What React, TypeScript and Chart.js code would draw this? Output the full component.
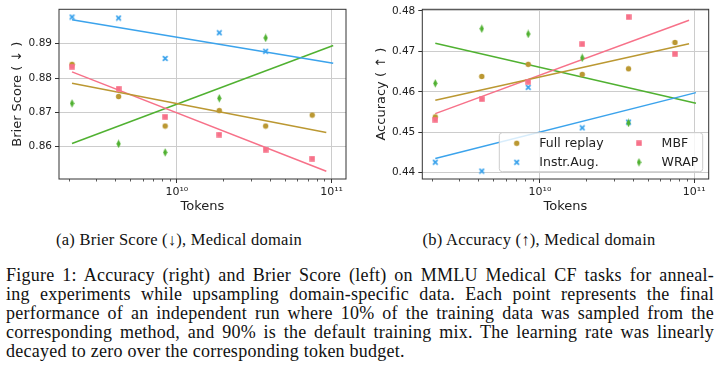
import React, { useEffect, useRef } from "react";
import { Chart, registerables } from "chart.js";

Chart.register(...registerables);

// ---------------- data ----------------
const tokens = [2.1e9, 4.2e9, 8.4e9, 1.88e10, 3.75e10, 7.5e10];
const seriesNames = ["Full replay", "Instr.Aug.", "MBF", "WRAP"];
const seriesColors = ["#bb9832", "#3ba3ec", "#f77189", "#50b131"];
const seriesMarkers = ["circle", "x", "square", "thinDiamond"];

// Brier score (left)
const brierFullReplay = [0.884, 0.8746, 0.866, 0.8705, 0.866, 0.8692];
const brierInstrAug = [0.8978, 0.8975, 0.8857, 0.8932, 0.8878];
const brierMBF = [0.8833, 0.8769, 0.8687, 0.8635, 0.8591, 0.8565];
const brierWRAP = [0.8726, 0.8608, 0.8583, 0.8741, 0.8917];

// Accuracy (right)
const accFullReplay = [0.4538, 0.4638, 0.4668, 0.4643, 0.4657, 0.4722];
const accInstrAug = [0.4426, 0.4404, 0.4611, 0.4511, 0.4525];
const accMBF = [0.4531, 0.4582, 0.4625, 0.4718, 0.4785, 0.4694];
const accWRAP = [0.4621, 0.4756, 0.4743, 0.4684, 0.4523];

// linear fits (in log-x), start and end
const trendStartX = 2.1e9;
const trendEndX = [9.25e10, 1.025e11, 9.25e10, 1.025e11];
const brierTrendStart = [0.8785, 0.897, 0.8818, 0.8609];
const brierTrendEnd = [0.8641, 0.8843, 0.8528, 0.8895];
const accTrendStart = [0.4579, 0.4435, 0.4546, 0.472];
const accTrendEnd = [0.4719, 0.4598, 0.4777, 0.4572];

// axes
const xMin = 1.73e9;
const xMax = 1.24e11;
const xMajorTicks = [1e10, 1e11];
const xTickLabels = ["10¹⁰", "10¹¹"];
const brierTicks = [0.86, 0.87, 0.88, 0.89];
const accTicks = [0.44, 0.45, 0.46, 0.47, 0.48];
const brierRange = [0.85055, 0.90005];
const accRange = [0.43845, 0.4804];

const FONT = "'DejaVu Sans', sans-serif";
const TEXT = "#222222";

function makeMarker(kind: string, color: string): HTMLCanvasElement {
  const c = document.createElement("canvas");
  let w = 7,
    h = 7;
  if (kind === "thinDiamond") {
    w = 5;
    h = 9;
  }
  if (kind === "square") {
    w = 6;
    h = 6;
  }
  c.width = w;
  c.height = h;
  const g = c.getContext("2d")!;
  g.fillStyle = color;
  g.strokeStyle = color;
  if (kind === "circle") {
    g.beginPath();
    g.arc(3.5, 3.5, 2.7, 0, Math.PI * 2);
    g.fill();
  } else if (kind === "square") {
    g.fillRect(0.25, 0.25, 5.5, 5.5);
  } else if (kind === "x") {
    g.lineWidth = 1.7;
    g.beginPath();
    g.moveTo(1.2, 1.2);
    g.lineTo(5.8, 5.8);
    g.moveTo(5.8, 1.2);
    g.lineTo(1.2, 5.8);
    g.stroke();
  } else {
    g.beginPath();
    g.moveTo(2.5, 0.3);
    g.lineTo(4.6, 4.5);
    g.lineTo(2.5, 8.7);
    g.lineTo(0.4, 4.5);
    g.closePath();
    g.fill();
  }
  return c;
}

const framePlugin = {
  id: "frameAndMinorTicks",
  afterDraw(chart: any) {
    const { ctx, chartArea: a } = chart;
    const xs = chart.scales.x;
    ctx.save();
    ctx.strokeStyle = "#333333";
    ctx.lineWidth = 1;
    ctx.strokeRect(a.left, a.top, a.right - a.left, a.bottom - a.top);
    ctx.lineWidth = 0.8;
    ctx.beginPath();
    for (let e = 9; e <= 11; e++) {
      for (let m = 2; m <= 9; m++) {
        const v = m * Math.pow(10, e);
        if (v <= xs.min || v >= xs.max) continue;
        const px = Math.round(xs.getPixelForValue(v)) + 0.5;
        ctx.moveTo(px, a.bottom);
        ctx.lineTo(px, a.bottom + 2.5);
      }
    }
    ctx.stroke();
    ctx.restore();
  },
};

function makeLegendPlugin(markers: HTMLCanvasElement[]) {
  return {
    id: "insetLegend",
    afterDraw(chart: any) {
      const { ctx, chartArea: a } = chart;
      const w = 203.4,
        h = 39;
      const x0 = a.right - 6 - w,
        y0 = a.bottom - 7.3 - h;
      const r = 3;
      ctx.save();
      ctx.beginPath();
      ctx.moveTo(x0 + r, y0);
      ctx.lineTo(x0 + w - r, y0);
      ctx.arcTo(x0 + w, y0, x0 + w, y0 + r, r);
      ctx.lineTo(x0 + w, y0 + h - r);
      ctx.arcTo(x0 + w, y0 + h, x0 + w - r, y0 + h, r);
      ctx.lineTo(x0 + r, y0 + h);
      ctx.arcTo(x0, y0 + h, x0, y0 + h - r, r);
      ctx.lineTo(x0, y0 + r);
      ctx.arcTo(x0, y0, x0 + r, y0, r);
      ctx.closePath();
      ctx.fillStyle = "rgba(255,255,255,0.8)";
      ctx.fill();
      ctx.strokeStyle = "#cccccc";
      ctx.lineWidth = 1;
      ctx.stroke();
      ctx.font = `12.5px ${FONT}`;
      ctx.fillStyle = TEXT;
      ctx.textBaseline = "middle";
      ctx.textAlign = "left";
      seriesNames.forEach((name, i) => {
        const col = Math.floor(i / 2);
        const row = i % 2;
        const mx = x0 + 17.4 + col * 122.3;
        const my = y0 + 10.6 + row * 19;
        const m = markers[i];
        ctx.drawImage(m, mx - m.width / 2, my - m.height / 2);
        ctx.fillText(name, x0 + 40 + col * 122.3, my + 0.5);
      });
      ctx.restore();
    },
  };
}

type PanelSpec = {
  values: number[][];
  trendStart: number[];
  trendEnd: number[];
  yRange: number[];
  yTicks: number[];
  yTitle: string;
  yTitlePad: number;
  yAxisWidth: number;
  padRight: number;
  padTop: number;
  legend: boolean;
};

function buildConfig(p: PanelSpec): any {
  const markers = seriesColors.map((c, i) => makeMarker(seriesMarkers[i], c));
  const scatterSets = seriesNames.map((name, i) => ({
    type: "scatter",
    label: name,
    data: p.values[i].map((y, j) => ({ x: tokens[j], y })),
    pointStyle: markers[i],
    pointRadius: 4,
    backgroundColor: seriesColors[i],
    borderColor: seriesColors[i],
    order: 4 - i,
  }));
  const lineSets = seriesNames.map((name, i) => ({
    type: "line",
    label: name + " fit",
    data: [
      { x: trendStartX, y: p.trendStart[i] },
      { x: trendEndX[i], y: p.trendEnd[i] },
    ],
    borderColor: seriesColors[i],
    backgroundColor: seriesColors[i],
    borderWidth: 1.5,
    pointRadius: 0,
    fill: false,
    tension: 0,
    order: 10 + i,
  }));
  const plugins: any[] = [framePlugin];
  if (p.legend) plugins.push(makeLegendPlugin(markers));
  return {
    type: "scatter",
    data: { datasets: [...lineSets, ...scatterSets] },
    plugins,
    options: {
      responsive: false,
      animation: false,
      devicePixelRatio: 1,
      layout: { padding: { top: p.padTop, right: p.padRight, left: 0, bottom: 0 } },
      plugins: {
        legend: { display: false },
        tooltip: { enabled: false },
        title: { display: false },
      },
      scales: {
        x: {
          type: "logarithmic",
          min: xMin,
          max: xMax,
          afterBuildTicks: (s: any) => {
            s.ticks = xMajorTicks.map((v) => ({ value: v, major: true }));
          },
          afterFit: (s: any) => {
            s.height = 41;
          },
          ticks: {
            autoSkip: false,
            maxRotation: 0,
            padding: 3,
            color: TEXT,
            font: { family: FONT, size: 11 },
            callback: (_v: any, i: number) => xTickLabels[i],
          },
          grid: {
            color: "#cccccc",
            lineWidth: 1,
            tickColor: "#333333",
            tickLength: 4,
            drawTicks: true,
          },
          border: { display: false },
          title: {
            display: true,
            text: "Tokens",
            color: TEXT,
            font: { family: FONT, size: 13 },
            padding: { top: 0, bottom: 5.5 },
          },
        },
        y: {
          type: "linear",
          min: p.yRange[0],
          max: p.yRange[1],
          afterBuildTicks: (s: any) => {
            s.ticks = p.yTicks.map((v) => ({ value: v }));
          },
          afterFit: (s: any) => {
            s.width = p.yAxisWidth;
          },
          ticks: {
            padding: 3,
            color: TEXT,
            font: { family: FONT, size: 10.5 },
            callback: (v: any) => Number(v).toFixed(2),
          },
          grid: {
            color: "#cccccc",
            lineWidth: 1,
            tickColor: "#333333",
            tickLength: 4,
          },
          border: { display: false },
          title: {
            display: true,
            text: p.yTitle,
            color: TEXT,
            font: { family: FONT, size: 13 },
            padding: { top: p.yTitlePad, bottom: 0 },
          },
        },
      },
    },
  };
}

function ChartPanel({ left, spec }: { left: number; spec: PanelSpec }) {
  const ref = useRef<HTMLCanvasElement>(null);
  useEffect(() => {
    const chart = new Chart(ref.current as HTMLCanvasElement, buildConfig(spec));
    return () => chart.destroy();
  }, []);
  return (
    <canvas
      ref={ref}
      width={360}
      height={220}
      style={{ position: "absolute", left, top: 0, width: 360, height: 220 }}
    />
  );
}

const leftSpec: PanelSpec = {
  values: [brierFullReplay, brierInstrAug, brierMBF, brierWRAP],
  trendStart: brierTrendStart,
  trendEnd: brierTrendEnd,
  yRange: brierRange,
  yTicks: brierTicks,
  yTitle: "Brier Score ( ↓ )",
  yTitlePad: 9.5,
  yAxisWidth: 59,
  padRight: 14,
  padTop: 7.5,
  legend: false,
};

const rightSpec: PanelSpec = {
  values: [accFullReplay, accInstrAug, accMBF, accWRAP],
  trendStart: accTrendStart,
  trendEnd: accTrendEnd,
  yRange: accRange,
  yTicks: accTicks,
  yTitle: "Accuracy ( ↑ )",
  yTitlePad: 14,
  yAxisWidth: 62.3,
  padRight: 11.3,
  padTop: 8.3,
  legend: true,
};

const subCaptions = ["(a) Brier Score (↓), Medical domain", "(b) Accuracy (↑), Medical domain"];
const captionLines = [
  "Figure 1:  Accuracy (right) and Brier Score (left) on MMLU Medical CF tasks for anneal-",
  "ing experiments while upsampling domain-specific data. Each point represents the final",
  "performance of an independent run where 10% of the training data was sampled from the",
  "corresponding method, and 90% is the default training mix. The learning rate was linearly",
  "decayed to zero over the corresponding token budget.",
];

const SERIF = "'Liberation Serif', 'Times New Roman', serif";

export default function App() {
  return (
    <div
      style={{
        position: "absolute",
        left: 0,
        top: 0,
        width: 720,
        height: 370,
        background: "#ffffff",
        overflow: "hidden",
      }}
    >
      <ChartPanel left={0} spec={leftSpec} />
      <ChartPanel left={360} spec={rightSpec} />
      {subCaptions.map((t, i) => (
        <div
          key={t}
          style={{
            position: "absolute",
            left: i * 360 - 1,
            top: 229.5,
            width: 360,
            textAlign: "center",
            fontFamily: SERIF,
            fontSize: 16.5,
            letterSpacing: "0.25px",
            lineHeight: "19px",
            color: "#111",
            whiteSpace: "nowrap",
          }}
        >
          {t}
        </div>
      ))}
      <div
        style={{
          position: "absolute",
          left: 6,
          top: 265.5,
          width: 708,
          fontFamily: SERIF,
          fontSize: 18,
          letterSpacing: "0.25px",
          lineHeight: "19px",
          color: "#111",
        }}
      >
        {captionLines.map((t, i) => (
          <div
            key={i}
            style={{
              textAlign: i < captionLines.length - 1 ? "justify" : "left",
              textAlignLast: i < captionLines.length - 1 ? "justify" : "left",
              whiteSpace: "normal",
            } as any}
          >
            {t}
          </div>
        ))}
      </div>
    </div>
  );
}
